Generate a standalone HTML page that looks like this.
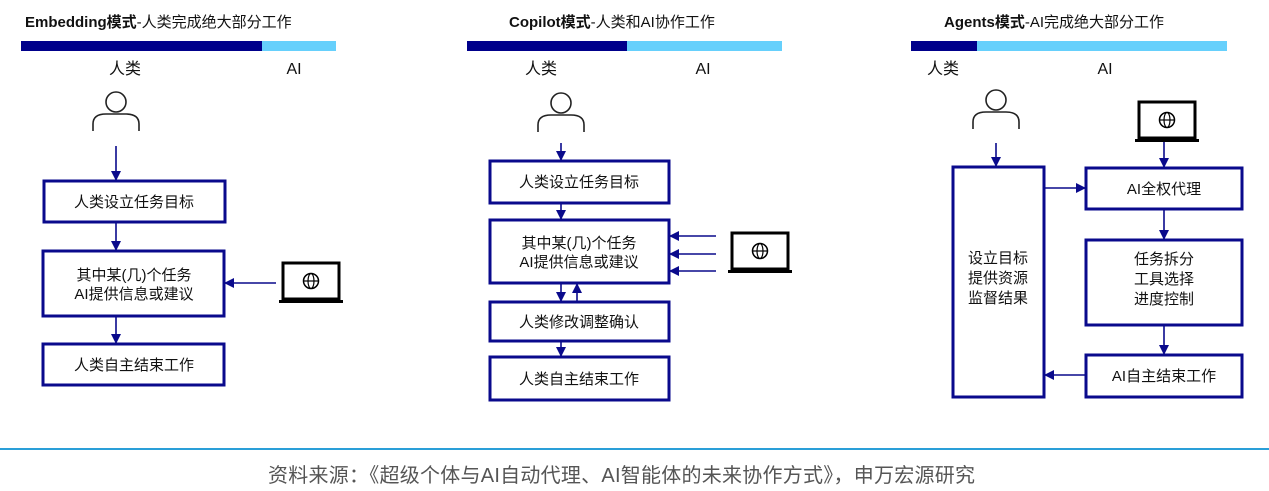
<!DOCTYPE html>
<html><head><meta charset="utf-8"><style>
html,body{margin:0;padding:0;background:#fff;}
svg{display:block;font-family:"Liberation Sans","Noto Sans CJK SC",sans-serif;}
</style></head><body>
<svg width="1269" height="491" viewBox="0 0 1269 491" xmlns="http://www.w3.org/2000/svg">
<defs>
<marker id="a" markerWidth="10" markerHeight="10" refX="9" refY="5" orient="auto" markerUnits="userSpaceOnUse">
<path d="M0,0 L10,5 L0,10 Z" fill="#0a0a8c"/></marker>
<g id="person" fill="none" stroke="#222" stroke-width="1.6">
<circle cx="0" cy="0" r="10"/>
<path d="M-23,29 V22 Q-23,12 -10,12 H10 Q23,12 23,22 V29"/>
</g>
<g id="laptop">
<rect x="4" y="0" width="56" height="36" fill="none" stroke="#000" stroke-width="3"/>
<rect x="0" y="37" width="64" height="3" fill="#000"/>
<circle cx="32" cy="18" r="7.5" fill="none" stroke="#000" stroke-width="1.5"/>
<ellipse cx="32" cy="18" rx="3" ry="7.5" fill="none" stroke="#000" stroke-width="1.2"/>
<line x1="24.5" y1="18" x2="39.5" y2="18" stroke="#000" stroke-width="1.2"/>
</g>
</defs>
<g fill="none" stroke="#0a0a8c" stroke-width="3">
<rect x="44" y="181" width="181" height="41"/>
<rect x="43" y="251" width="181" height="65"/>
<rect x="43" y="344" width="181" height="41"/>
<rect x="490" y="161" width="179" height="42"/>
<rect x="490" y="220" width="179" height="63"/>
<rect x="490" y="302" width="179" height="39"/>
<rect x="490" y="357" width="179" height="43"/>
<rect x="953" y="167" width="91" height="230"/>
<rect x="1086" y="168" width="156" height="41"/>
<rect x="1086" y="240" width="156" height="85"/>
<rect x="1086" y="355" width="156" height="42"/>
</g>
<g stroke="#0a0a8c" stroke-width="1.6" marker-end="url(#a)">
<line x1="116" y1="146" x2="116" y2="180"/>
<line x1="116" y1="223" x2="116" y2="250"/>
<line x1="116" y1="317" x2="116" y2="343"/>
<line x1="276" y1="283" x2="225" y2="283"/>
<line x1="561" y1="143" x2="561" y2="160"/>
<line x1="561" y1="204" x2="561" y2="219"/>
<line x1="561" y1="284" x2="561" y2="301"/>
<line x1="577" y1="301" x2="577" y2="284"/>
<line x1="561" y1="342" x2="561" y2="356"/>
<line x1="716" y1="236" x2="670" y2="236"/>
<line x1="716" y1="254" x2="670" y2="254"/>
<line x1="716" y1="271" x2="670" y2="271"/>
<line x1="996" y1="143" x2="996" y2="166"/>
<line x1="1164" y1="142" x2="1164" y2="167"/>
<line x1="1164" y1="210" x2="1164" y2="239"/>
<line x1="1164" y1="326" x2="1164" y2="354"/>
<line x1="1045" y1="188" x2="1085" y2="188"/>
<line x1="1085" y1="375" x2="1045" y2="375"/>
</g>
<use href="#person" x="116" y="102"/>
<use href="#person" x="561" y="103"/>
<use href="#person" x="996" y="100"/>
<use href="#laptop" x="279" y="263"/>
<use href="#laptop" x="728" y="233"/>
<use href="#laptop" x="1135" y="102"/>
<rect x="21" y="41" width="241" height="10" fill="#00008b"/><rect x="262" y="41" width="74" height="10" fill="#66d0fc"/>
<rect x="467" y="41" width="160" height="10" fill="#00008b"/><rect x="627" y="41" width="155" height="10" fill="#66d0fc"/>
<rect x="911" y="41" width="66" height="10" fill="#00008b"/><rect x="977" y="41" width="250" height="10" fill="#66d0fc"/>
<g font-size="15" fill="#111">
<text x="25" y="27"><tspan font-weight="bold">Embedding模式</tspan>-人类完成绝大部分工作</text>
<text x="509" y="27"><tspan font-weight="bold">Copilot模式</tspan>-人类和AI协作工作</text>
<text x="944" y="27"><tspan font-weight="bold">Agents模式</tspan>-AI完成绝大部分工作</text>
</g>
<g font-size="16" fill="#111" text-anchor="middle">
<text x="125" y="74">人类</text><text x="294" y="74">AI</text>
<text x="541" y="74">人类</text><text x="703" y="74">AI</text>
<text x="943" y="74">人类</text><text x="1105" y="74">AI</text>
</g>
<g font-size="15" fill="#111" text-anchor="middle">
<text x="134" y="207">人类设立任务目标</text>
<text x="134" y="280">其中某(几)个任务</text>
<text x="134" y="299">AI提供信息或建议</text>
<text x="134" y="370">人类自主结束工作</text>
<text x="579" y="187">人类设立任务目标</text>
<text x="579" y="248">其中某(几)个任务</text>
<text x="579" y="267">AI提供信息或建议</text>
<text x="579" y="327">人类修改调整确认</text>
<text x="579" y="384">人类自主结束工作</text>
<text x="998" y="263">设立目标</text>
<text x="998" y="283">提供资源</text>
<text x="998" y="303">监督结果</text>
<text x="1164" y="194">AI全权代理</text>
<text x="1164" y="264">任务拆分</text>
<text x="1164" y="284">工具选择</text>
<text x="1164" y="304">进度控制</text>
<text x="1164" y="381">AI自主结束工作</text>
</g>
<rect x="0" y="448" width="1269" height="2" fill="#2a9fd8"/>
<text x="268" y="482" font-size="20" fill="#555" textLength="707" lengthAdjust="spacing">资料来源：《超级个体与AI自动代理、AI智能体的未来协作方式》，申万宏源研究</text>
</svg>
</body></html>
